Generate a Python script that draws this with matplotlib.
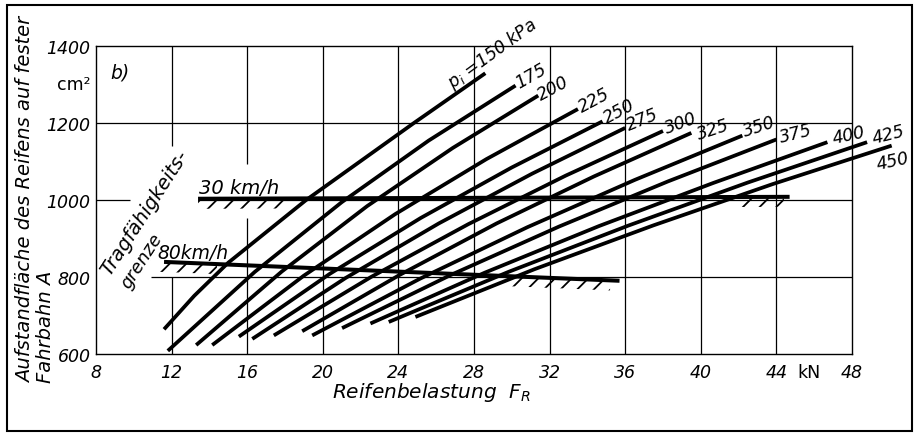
import numpy as np
import matplotlib.pyplot as plt
from matplotlib.patches import Rectangle

# Reifeninnendruck p_i in kPa
pressures = [150, 175, 200, 225, 250, 275, 300, 325, 350, 375, 400, 425, 450]

curve_F = [
    [11.6, 13.2, 15.0, 19.1, 24.8, 28.6],
    [11.8, 16.4, 21.0, 25.6, 30.2],
    [13.3, 17.83, 22.35, 26.88, 31.4],
    [14.15, 18.99, 23.83, 28.66, 33.5],
    [15.56, 20.37, 25.18, 29.99, 34.8],
    [16.27, 21.2, 26.14, 31.07, 36.0],
    [17.41, 22.56, 27.7, 32.85, 38.0],
    [18.91, 24.06, 29.2, 34.35, 39.5],
    [19.44, 25.13, 30.82, 36.51, 42.2],
    [21.02, 26.77, 32.51, 38.26, 44.0],
    [22.52, 28.57, 34.61, 40.66, 46.7],
    [23.49, 29.82, 36.15, 42.48, 48.8],
    [24.9, 31.2, 37.5, 43.8, 50.1],
]
curve_A = [
    [665, 752, 838, 1000, 1200, 1330],
    [609, 814, 995, 1155, 1298],
    [624, 815, 985, 1136, 1272],
    [624, 804, 964, 1107, 1237],
    [646, 809, 954, 1085, 1205],
    [640, 798, 940, 1069, 1188],
    [649, 801, 938, 1064, 1180],
    [660, 806, 940, 1062, 1175],
    [649, 796, 930, 1053, 1168],
    [668, 806, 932, 1049, 1158],
    [680, 812, 933, 1045, 1151],
    [684, 814, 934, 1046, 1151],
    [697, 821, 935, 1042, 1142],
]

# Tragfaehigkeitsgrenzen
limit30_F = [13.4, 44.7]
limit30_A = [1004, 1009]
limit80_F = [11.6, 35.7]
limit80_A = [840, 791]

x_ticks = [8, 12, 16, 20, 24, 28, 32, 36, 40, 44, 48]
y_ticks = [600, 800, 1000, 1200, 1400]

# label placement: offset (pixels) from curve end and rotation
label_offsets = [(-33, -15), (4, -2), (3, -4), (4, -3), (4, -2), (4, -2), (4, -2),
                 (8, -6), (3, 0), (5, -3), (6, -1), (7, -1), (-14, -23)]
label_rot = [36, 30, 28, 28, 28, 22, 20, 18, 18, 14, 12, 14, 12]

plt.rcParams['font.family'] = ['DejaVu Sans']
plt.rcParams['hatch.linewidth'] = 1.3

fig = plt.figure(figsize=(9.16, 4.35), dpi=100)
ax = fig.add_axes([0.1048, 0.1832, 0.8253, 0.7081])
ax.set_xlim(8, 48)
ax.set_ylim(600, 1400)

# grid, drawn by hand because the original has gaps near the labels
ax.vlines([20, 24, 28, 32, 36, 40, 44], 600, 1400, color='black', lw=0.9)
ax.vlines([12, 12], [600, 1140], [800, 1400], color='black', lw=0.9)
ax.vlines([16, 16], [600, 1095], [955, 1400], color='black', lw=0.9)
ax.hlines(1200, 8, 48, color='black', lw=0.9)
ax.hlines(800, 10.9, 48, color='black', lw=0.9)
ax.hlines([1000, 1000], [8, 13.4], [9.8, 48], color='black', lw=0.9)

for p, F, A, off, rot in zip(pressures, curve_F, curve_A, label_offsets, label_rot):
    ax.plot(F, A, color='black', lw=2.7, solid_capstyle='butt', solid_joinstyle='round',
            clip_on=False)
    txt = r'$p_i$ =150 kPa' if p == 150 else str(p)
    ax.annotate(txt, (F[-1], A[-1]), xytext=off, textcoords='offset pixels',
                rotation=rot, rotation_mode='anchor', ha='left', va='baseline',
                fontsize=12.5, fontstyle='italic', annotation_clip=False)

# limit lines with hatching below
for LF, LA, segs in [(limit30_F, limit30_A, [(13.4, 18.1), (41.9, 44.4)]),
                     (limit80_F, limit80_A, [(11.3, 14.4), (29.9, 35.2)])]:
    ax.plot(LF, LA, color='black', lw=2.9, solid_capstyle='butt')
    for a, b in segs:
        xs = np.linspace(a, b, 20)
        ys = np.interp(xs, LF, LA)
        ax.fill_between(xs, ys - 26, ys - 3, facecolor='none', edgecolor='black',
                        hatch='//', linewidth=0)

ax.text(13.45, 1019, '30 km/h', fontsize=14, fontstyle='italic')
ax.text(11.26, 851, '80km/h', fontsize=13.5, fontstyle='italic')
ax.text(8.75, 803, 'Tragfähigkeits-', rotation=57, rotation_mode='anchor',
        ha='left', va='baseline', fontsize=14, fontstyle='italic')
ax.text(9.75, 770, 'grenze', rotation=57, rotation_mode='anchor',
        ha='left', va='baseline', fontsize=13, fontstyle='italic')
ax.text(8.78, 1319, 'b)', fontsize=13.5, fontstyle='italic')

# ticks
ax.set_xticks(x_ticks[:-1] + [45.7, 48])
ax.set_xticklabels([str(v) for v in x_ticks[:-1]] + ['kN', '48'])
ax.set_yticks(y_ticks[:-1] + [1306, 1400])
ax.set_yticklabels([str(v) for v in y_ticks[:-1]] + ['cm²', '1400'])
ax.tick_params(axis='both', length=0, labelsize=12.5)
ax.tick_params(axis='x', pad=6)
ax.tick_params(axis='y', pad=4)
for lab in ax.get_xticklabels() + ax.get_yticklabels():
    if lab.get_text() not in ('kN', 'cm²'):
        lab.set_fontstyle('italic')

for s in ax.spines.values():
    s.set_linewidth(1.0)

ax.set_xlabel(r'Reifenbelastung  $F_R$', fontsize=14.5, fontstyle='italic')
ax.xaxis.set_label_coords(0.443, -0.085)
ax.xaxis.label.set_va('top')

fig.text(0.034, 0.12, 'Aufstandfläche des Reifens auf fester', rotation=90,
         rotation_mode='anchor', ha='left', va='baseline', fontsize=14,
         fontstyle='italic')
fig.text(0.056, 0.12, 'Fahrbahn A', rotation=90, rotation_mode='anchor',
         ha='left', va='baseline', fontsize=14, fontstyle='italic')

fig.patches.append(Rectangle((0.008, 0.007), 0.988, 0.979, transform=fig.transFigure,
                             fill=False, edgecolor='black', lw=1.5))

fig.savefig('out.png', dpi=100)
